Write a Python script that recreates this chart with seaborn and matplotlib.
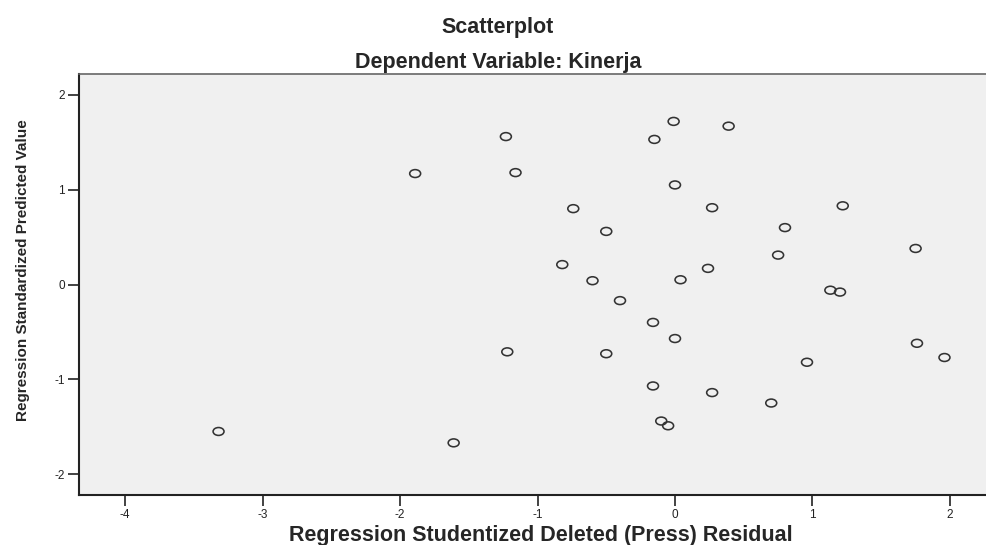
import pandas as pd
import matplotlib.pyplot as plt
import seaborn as sns
from matplotlib.path import Path

# values
residual = [-1.89, -1.23, -1.16, -0.15, -0.01, 0.00, -0.74, -0.50, -0.82, -0.60,
            0.04, 0.39, 0.27, 1.22, 0.80, 0.75, 1.75, 0.24, 1.13, 1.20,
            1.76, 1.96, 0.96, 0.27, 0.70, -0.40, -0.16, 0.00, -1.22, -0.50,
            -0.16, -0.10, -0.05, -1.61, -3.32]
predicted = [1.17, 1.56, 1.18, 1.53, 1.72, 1.05, 0.80, 0.56, 0.21, 0.04,
             0.05, 1.67, 0.81, 0.83, 0.60, 0.31, 0.38, 0.17, -0.06, -0.08,
             -0.62, -0.77, -0.82, -1.14, -1.25, -0.17, -0.40, -0.57, -0.71, -0.73,
             -1.07, -1.44, -1.49, -1.67, -1.55]
x_ticks = [-4, -3, -2, -1, 0, 1, 2]
y_ticks = [-2, -1, 0, 1, 2]

df = pd.DataFrame({'Residual': residual, 'Predicted': predicted})

sns.set_style('ticks', {'axes.facecolor': '#f0f0f0', 'axes.edgecolor': '#222222'})
plt.rcParams['font.family'] = ['Liberation Sans', 'DejaVu Sans']
plt.rcParams['axes.unicode_minus'] = False

W, H = 986, 545
fig = plt.figure(figsize=(W / 100, H / 100), dpi=100)
ax = fig.add_axes([79 / W, 1 - 495 / H, (W - 79) / W, (495 - 74) / H])

# slightly flattened open circle, like the SPSS marker
circ = Path.unit_circle()
oval = Path(circ.vertices * [1.0, 0.72], circ.codes)

sns.scatterplot(data=df, x='Residual', y='Predicted', marker=oval, s=62,
                facecolors='none', edgecolor='#333333', linewidth=1.15, ax=ax)

ax.set_xlim(-4.335, 2.262)
ax.set_ylim(-2.22, 2.22)
ax.set_xticks(x_ticks)
ax.set_yticks(y_ticks)
ax.tick_params(length=8, width=1.2, pad=2, labelsize=8.5, colors='#222222')

for s in ['left', 'bottom']:
    ax.spines[s].set_linewidth(1.5)
ax.spines['top'].set_visible(True)
ax.spines['top'].set_color('#666666')
ax.spines['top'].set_linewidth(1.2)
ax.spines['right'].set_visible(False)

ax.set_xlabel('')
ax.set_ylabel('')

fig.text(498 / W, 1 - 33 / H, 'Scatterplot', ha='center', va='baseline',
         fontsize=15.5, fontweight='bold')
fig.text(498 / W, 1 - 68 / H, 'Dependent Variable: Kinerja', ha='center',
         va='baseline', fontsize=15.5, fontweight='bold')
fig.text(541 / W, 1 - 541 / H, 'Regression Studentized Deleted (Press) Residual',
         ha='center', va='baseline', fontsize=15.5, fontweight='bold')
fig.text(23 / W, 1 - 270 / H, 'Regression Standardized Predicted Value',
         ha='center', va='center', rotation=90, fontsize=11, fontweight='bold')

fig.savefig('out.png', dpi=100)
